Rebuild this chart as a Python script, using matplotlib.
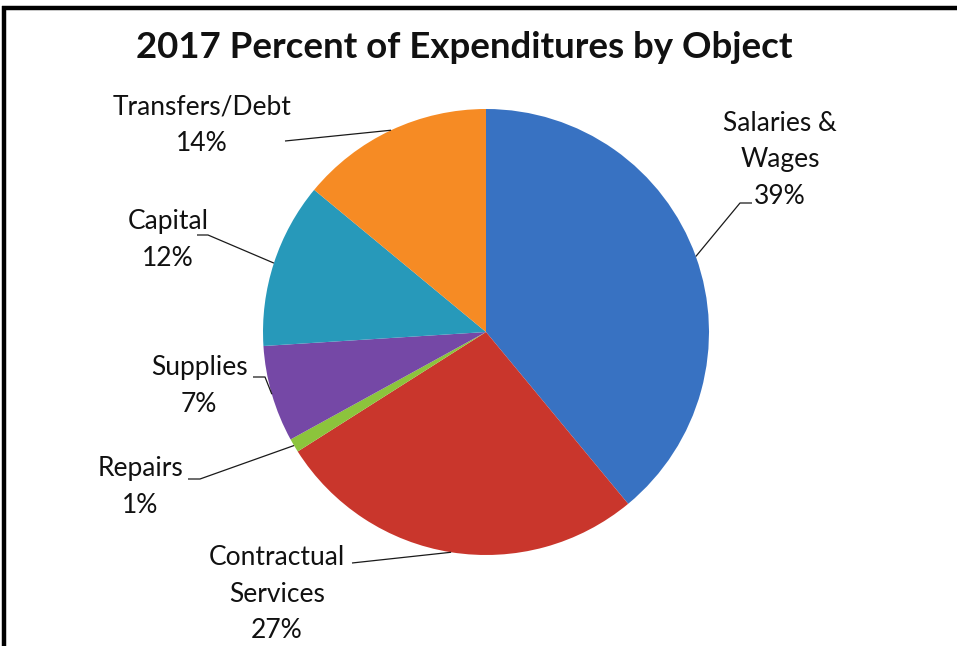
import matplotlib
matplotlib.use("Agg")
import matplotlib.pyplot as plt
import numpy as np

# Data
categories = ["Salaries &\nWages", "Contractual\nServices", "Repairs", "Supplies", "Capital", "Transfers/Debt"]
percents = [39, 27, 1, 7, 12, 14]
colors = ["#3872c2", "#c9362c", "#8cc43c", "#7548a6", "#2799ba", "#f68b24"]

W, H = 957, 646
plt.rcParams["font.family"] = ["Lato", "DejaVu Sans"]

fig = plt.figure(figsize=(W / 100, H / 100), dpi=100)
ax = fig.add_axes([0, 0, 1, 1])

def Y(y):
    return H - y

wedges, _ = ax.pie(percents, colors=colors, startangle=90, counterclock=False,
                   center=(486, Y(332)), radius=223, frame=True,
                   wedgeprops=dict(linewidth=0))
ax.set_xlim(0, W)
ax.set_ylim(0, H)
ax.set_aspect("equal")
ax.axis("off")

# Label layout: text centre, line-start point, optional stub end (image pixels)
layout = [
    dict(xy=(780, 160), start=(752, 203), stub=(740, 203)),
    dict(xy=(277, 594), start=(352, 563), stub=None),
    dict(xy=(140, 487), start=(188, 479), stub=(200, 479)),
    dict(xy=(199, 386), start=(253, 377), stub=(265, 377)),
    dict(xy=(168, 240), start=(197, 235), stub=(208, 235)),
    dict(xy=(202, 125), start=(285, 141), stub=None),
]

for w, name, pct, lay in zip(wedges, categories, percents, layout):
    mid = np.deg2rad((w.theta1 + w.theta2) / 2)
    cx, cy = w.center
    ex, ey = cx + w.r * np.cos(mid), cy + w.r * np.sin(mid)
    pts = [lay["start"]]
    if lay["stub"] is not None:
        pts.append(lay["stub"])
    xs = [p[0] for p in pts] + [ex]
    ys = [Y(p[1]) for p in pts] + [ey]
    ax.plot(xs, ys, color="#1a1a1a", lw=0.9, solid_capstyle="butt")
    ax.text(lay["xy"][0], Y(lay["xy"][1]), f"{name}\n{pct}%", ha="center", va="center",
            multialignment="center", fontsize=19, color="#111111", linespacing=1.56)

ax.text(464, Y(47), "2017 Percent of Expenditures by Object", ha="center", va="center",
        fontsize=26.4, fontweight="bold", color="#111111")

# Frame edges (top and left)
ax.plot([2, W], [Y(7.5), Y(7.5)], color="black", lw=3.2, solid_capstyle="butt")
ax.plot([4, 4], [Y(6), 0], color="black", lw=3.2, solid_capstyle="butt")

fig.savefig("out.png", dpi=100, facecolor="white")
